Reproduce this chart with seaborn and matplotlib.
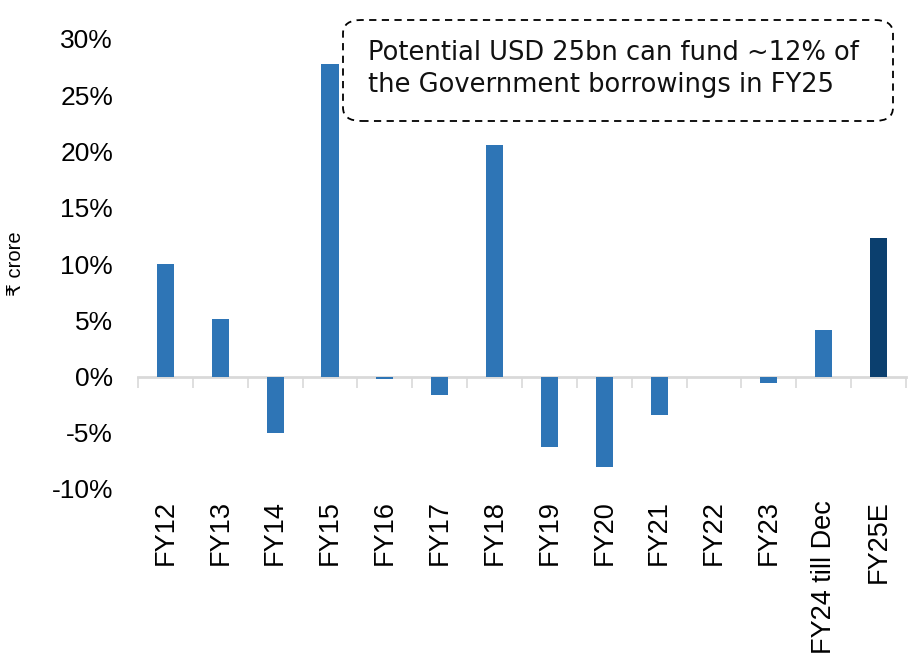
import matplotlib
matplotlib.use("Agg")
import matplotlib.pyplot as plt
import seaborn as sns
import pandas as pd
from matplotlib.patches import FancyBboxPatch
from matplotlib.ticker import FixedLocator

categories = ["FY12", "FY13", "FY14", "FY15", "FY16", "FY17", "FY18", "FY19",
              "FY20", "FY21", "FY22", "FY23", "FY24 till Dec", "FY25E"]
values = [10.0, 5.1, -5.0, 27.8, -0.2, -1.6, 20.6, -6.3, -8.0, -3.4, 0.0, -0.6, 4.1, 12.3]
bar_colors = ["#2E75B6"] * 13 + ["#0B3F6E"]
y_ticks = [-10, -5, 0, 5, 10, 15, 20, 25, 30]
y_tick_labels = [f"{t}%" for t in y_ticks]
annotation = "Potential USD 25bn can fund ~12% of\nthe Government borrowings in FY25"
y_label = "₹ crore"

sns.set_theme(style="white")
plt.rcParams['font.family'] = ['Liberation Sans', 'DejaVu Sans']

df = pd.DataFrame({"cat": categories, "val": values})

fig = plt.figure(figsize=(9.16, 6.70), dpi=100)
ax = fig.add_axes([138/916, 1 - 489/670, (906-138)/916, (489-39)/670])

sns.barplot(data=df, x="cat", y="val", hue="cat", palette=bar_colors, legend=False,
            width=0.31, saturation=1, ax=ax, edgecolor="none")

ymin, ymax = -10, 30
ax.set_ylim(ymin, ymax)
ax.set_xlim(-0.5, len(categories) - 0.5)
ax.set_yticks(y_ticks)
ax.set_yticklabels(y_tick_labels, fontsize=19, color="black",
                   family=['Liberation Sans', 'DejaVu Sans'])
ax.tick_params(axis="y", length=0, pad=18)
ax.set_xticks(range(len(categories)))
ax.set_xticklabels(categories, rotation=90, fontsize=19.5, color="black",
                   family=['Liberation Sans', 'DejaVu Sans'])
ax.tick_params(axis="x", length=0, pad=8)
for s in ax.spines.values():
    s.set_visible(False)
ax.set_xlabel("")
ax.set_ylabel(y_label, fontsize=14.5, family=['Liberation Sans', 'DejaVu Sans'],
              color="black")
ax.yaxis.set_label_coords(-0.147, 0.5)

# zero axis line with category-boundary ticks
sec = ax.secondary_xaxis((0 - ymin) / (ymax - ymin))
sec.spines["bottom"].set_color("#d9d9d9")
sec.spines["bottom"].set_linewidth(2)
sec.xaxis.set_major_locator(FixedLocator([i - 0.5 for i in range(len(categories) + 1)]))
sec.tick_params(axis="x", which="major", direction="out", length=8, width=1.2,
                color="#d9d9d9", labelbottom=False)
ax.set_zorder(1)
ax.patch.set_visible(False)

# annotation box
x0, x1 = 343/916, 893/916
y0, y1 = 1 - 121/670, 1 - 20/670
box = FancyBboxPatch((x0, y0), x1 - x0, y1 - y0, transform=fig.transFigure,
                     boxstyle="round,pad=0,rounding_size=0.02", fill=False,
                     edgecolor="black", linestyle=(0, (4, 3)), linewidth=1.3)
fig.patches.append(box)
fig.text(368/916, 1 - 69/670, annotation, fontsize=18.5, fontweight="normal",
         family=['DejaVu Sans'], va="center", ha="left", linespacing=1.28,
         color="#111111")

fig.savefig("out.png", dpi=100)
